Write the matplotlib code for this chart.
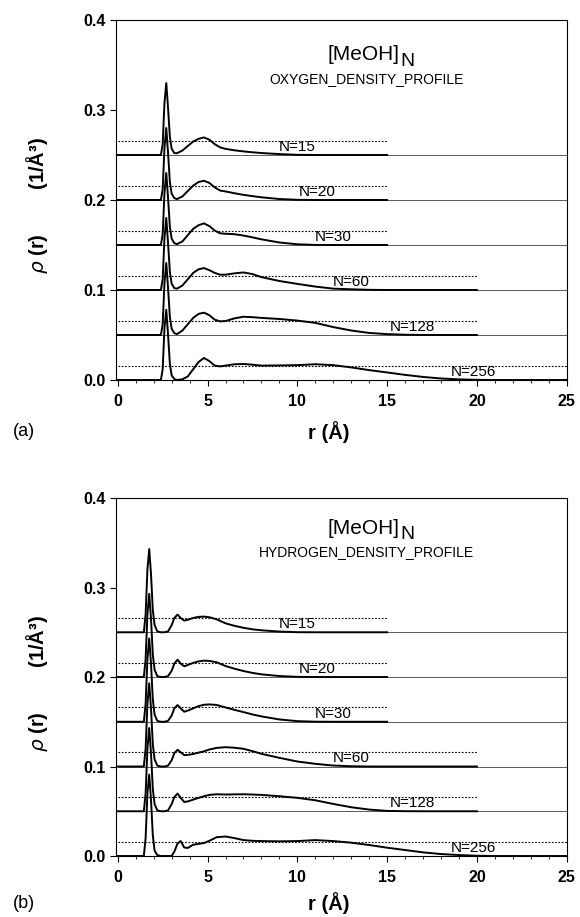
import matplotlib
matplotlib.use("Agg")
import matplotlib.pyplot as plt
from matplotlib.ticker import MultipleLocator, FormatStrFormatter

plt.rcParams["font.family"] = ["Liberation Sans", "DejaVu Sans"]

# cluster sizes, the stacking offset of each curve and where each curve stops
CLUSTER_SIZES = [15, 20, 30, 60, 128, 256]
OFFSETS = [0.25, 0.20, 0.15, 0.10, 0.05, 0.0]
R_MAX = [15, 15, 15, 20, 20, 25]
BULK = [0.016, 0.016, 0.016, 0.016, 0.016, 0.016]
LABEL_R = [10.0, 11.1, 12.0, 13.0, 16.4, 19.8]

# oxygen density profiles (value above the curve's own baseline)
R_OXY = [0, 2.4, 2.5, 2.6, 2.7, 2.8, 2.9, 3.0, 3.15,
         3.3, 3.6, 3.9, 4.2, 4.5, 4.8, 5.1, 5.4, 5.7, 6.0,
         6.5, 7.0, 7.5, 8.0, 9.0, 10,
         11, 12, 13, 14, 15, 16, 17, 18, 19, 20, 21, 22, 23, 24, 25]
OXY_15 = [0, 0, 0.012, 0.058, 0.080, 0.052, 0.020, 0.007, 0.002,
          0.002, 0.005, 0.010, 0.015, 0.018, 0.0195, 0.017, 0.012, 0.0085, 0.0068,
          0.0052, 0.0040, 0.0030, 0.0022, 0.0010, 0.0002,
          0, 0, 0, 0, 0]
OXY_20 = [0, 0, 0.012, 0.058, 0.080, 0.052, 0.020, 0.007, 0.002,
          0.001, 0.004, 0.010, 0.016, 0.020, 0.0214, 0.019, 0.014, 0.0105, 0.0095,
          0.0075, 0.0057, 0.0043, 0.0030, 0.0011, 0.0002,
          0, 0, 0, 0, 0]
OXY_30 = [0, 0, 0.012, 0.058, 0.080, 0.052, 0.020, 0.007, 0.002,
          0.001, 0.004, 0.011, 0.018, 0.022, 0.024, 0.021, 0.016, 0.013, 0.0125,
          0.012, 0.0105, 0.0085, 0.0063, 0.0028, 0.0008,
          0.0001, 0, 0, 0, 0]
OXY_60 = [0, 0, 0.012, 0.058, 0.080, 0.052, 0.020, 0.007, 0.002,
          0.0015, 0.005, 0.012, 0.019, 0.023, 0.0244, 0.022, 0.019, 0.017, 0.017,
          0.0185, 0.0195, 0.0177, 0.0143, 0.010, 0.0068,
          0.0038, 0.0015, 0.0008, 0.0002, 0,
          0, 0, 0, 0, 0]
OXY_128 = [0, 0, 0.012, 0.058, 0.080, 0.052, 0.020, 0.007, 0.002,
           0.001, 0.005, 0.012, 0.019, 0.0235, 0.0248, 0.022, 0.017, 0.0152, 0.0155,
           0.0185, 0.0203, 0.0198, 0.019, 0.0178, 0.016,
           0.0135, 0.0088, 0.005, 0.0023, 0.001,
           0.0003, 0, 0, 0, 0]
OXY_256 = [0, 0, 0.012, 0.058, 0.078, 0.050, 0.018, 0.005, 0.001,
           0, 0.0008, 0.004, 0.012, 0.020, 0.0245, 0.021, 0.016, 0.0151, 0.016,
           0.0175, 0.0178, 0.017, 0.016, 0.0162, 0.0165,
           0.0175, 0.0165, 0.014, 0.011, 0.0084,
           0.0057, 0.0034, 0.0017, 0.0007, 0.0002,
           0, 0, 0, 0, 0]

# hydrogen density profiles
R_HYD = [0, 1.45, 1.55, 1.65, 1.75, 1.85, 1.95, 2.05, 2.2,
         2.4, 2.6, 2.8,
         3.0, 3.15, 3.33, 3.5, 3.7, 3.9,
         4.2, 4.5, 4.8, 5.1, 5.5, 6.0,
         6.5, 7.0, 7.5, 8.0, 9, 10,
         11, 12, 13, 14, 15, 16, 17, 18, 19, 20, 21, 22, 23, 24, 25]
HYD_15 = [0, 0, 0.02, 0.07, 0.093, 0.065, 0.025, 0.008, 0.001,
          0, 0, 0.001,
          0.008, 0.016, 0.0198, 0.016, 0.013, 0.014,
          0.016, 0.0172, 0.0175, 0.0168, 0.0145, 0.010,
          0.0072, 0.005, 0.0033, 0.0022, 0.0008, 0.0001,
          0, 0, 0, 0, 0]
HYD_20 = [0, 0, 0.02, 0.07, 0.093, 0.065, 0.025, 0.008, 0.001,
          0, 0, 0.001,
          0.007, 0.015, 0.0194, 0.015, 0.012, 0.0135,
          0.0158, 0.0175, 0.0183, 0.018, 0.0165, 0.0123,
          0.0093, 0.0067, 0.0046, 0.003, 0.0011, 0.0002,
          0, 0, 0, 0, 0]
HYD_30 = [0, 0, 0.02, 0.07, 0.093, 0.065, 0.025, 0.008, 0.001,
          0, 0, 0.001,
          0.007, 0.015, 0.0187, 0.015, 0.0112, 0.0125,
          0.015, 0.0175, 0.019, 0.0194, 0.0188, 0.016,
          0.0133, 0.0108, 0.0082, 0.006, 0.0026, 0.0007,
          0.0001, 0, 0, 0, 0]
HYD_60 = [0, 0, 0.02, 0.07, 0.093, 0.065, 0.025, 0.008, 0.001,
          0, 0, 0.001,
          0.007, 0.015, 0.0187, 0.016, 0.0127, 0.013,
          0.014, 0.0155, 0.017, 0.019, 0.0208, 0.0216,
          0.021, 0.0198, 0.0172, 0.0142, 0.0097, 0.0056,
          0.003, 0.0011, 0.0003, 0, 0,
          0, 0, 0, 0, 0]
HYD_128 = [0, 0, 0.02, 0.07, 0.093, 0.065, 0.025, 0.008, 0.001,
           0, 0, 0.001,
           0.008, 0.016, 0.0198, 0.015, 0.0104, 0.011,
           0.013, 0.015, 0.0168, 0.0183, 0.019, 0.0187,
           0.0189, 0.019, 0.0187, 0.0183, 0.0168, 0.015,
           0.0123, 0.0082, 0.0045, 0.0019, 0.0004,
           0.0001, 0, 0, 0, 0]
HYD_256 = [0, 0, 0.02, 0.07, 0.091, 0.063, 0.023, 0.006, 0.001,
           0, 0, 0,
           0, 0.005, 0.014, 0.0168, 0.0095, 0.009,
           0.0126, 0.0136, 0.0145, 0.017, 0.021, 0.0218,
           0.020, 0.0178, 0.017, 0.0167, 0.0164, 0.0167,
           0.0178, 0.0167, 0.0149, 0.0123, 0.0093,
           0.0067, 0.0041, 0.0022, 0.0011, 0.0003,
           0, 0, 0, 0, 0]

OXY_CURVES = [OXY_15, OXY_20, OXY_30, OXY_60, OXY_128, OXY_256]
HYD_CURVES = [HYD_15, HYD_20, HYD_30, HYD_60, HYD_128, HYD_256]


def draw_panel(ax, r, curves, profile_name, title_y):
    for n, off, rmax, bulk, lab_r, rho in zip(CLUSTER_SIZES, OFFSETS, R_MAX,
                                             BULK, LABEL_R, curves):
        # thin line carries on to the edge of the frame
        ax.plot([0, 25], [off, off], color="0.25", lw=0.6)
        # bulk density level
        ax.plot([0, rmax], [off + bulk, off + bulk], color="black", lw=0.8,
                linestyle=(0, (1.5, 1.5)))
        ax.plot(r[:len(rho)], [off + v for v in rho], color="black", lw=1.4)
        ax.text(lab_r, off + 0.0045, f"N={n}", ha="center", va="baseline",
                fontsize=11)

    ax.set_xlim(-0.1, 25)
    ax.set_ylim(0, 0.4)
    ax.xaxis.set_major_locator(MultipleLocator(5))
    ax.xaxis.set_minor_locator(MultipleLocator(1))
    ax.yaxis.set_major_locator(MultipleLocator(0.1))
    ax.yaxis.set_major_formatter(FormatStrFormatter("%.1f"))
    ax.tick_params(which="major", direction="out", length=4, width=0.8,
                   labelsize=11.5)
    ax.tick_params(axis="x", which="major", pad=6)
    ax.tick_params(which="minor", direction="out", length=2, width=0.6)
    for lbl in ax.get_xticklabels() + ax.get_yticklabels():
        lbl.set_fontweight("bold")
    for sp in ax.spines.values():
        sp.set_linewidth(0.8)

    ax.text(0.630, title_y, "[MeOH]", transform=ax.transAxes,
            ha="right", va="center", fontsize=15)
    ax.text(0.632, title_y - 0.018, "N", transform=ax.transAxes,
            ha="left", va="center", fontsize=14)
    ax.text(0.555, title_y - 0.066, profile_name, transform=ax.transAxes,
            ha="center", va="center", fontsize=10)


def main():
    fig = plt.figure(figsize=(5.8, 9.17), dpi=100)

    ax_top = fig.add_axes([0.200, 0.5856, 0.777, 0.3926])
    ax_bot = fig.add_axes([0.200, 0.0665, 0.777, 0.3904])

    draw_panel(ax_top, R_OXY, OXY_CURVES, "OXYGEN_DENSITY_PROFILE", 0.903)
    draw_panel(ax_bot, R_HYD, HYD_CURVES, "HYDROGEN_DENSITY_PROFILE", 0.916)

    for tag, ypos, ylab_y in [("(a)", 0.529, 0.776), ("(b)", 0.015, 0.255)]:
        fig.text(0.022, ypos, tag, fontsize=13, va="center")
        fig.text(0.566, ypos, "r (Å)", fontsize=14.5, fontweight="bold",
                 ha="center", va="center")
        fig.text(0.064, ylab_y, r"$\rho$" + " (r)        (1/Å³)", rotation=90,
                 fontsize=14.5, fontweight="bold", ha="center", va="center")

    fig.savefig("out.png", dpi=100)


if __name__ == "__main__":
    main()
